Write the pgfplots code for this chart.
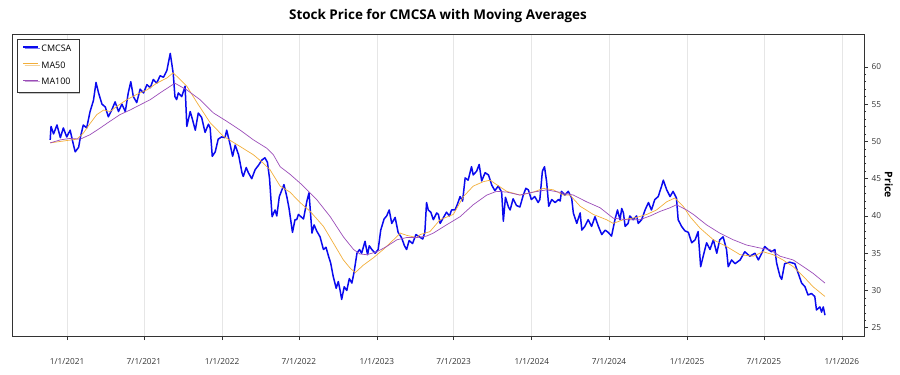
\documentclass[border=0pt]{standalone}
\usepackage{pgfplots}
\pgfplotsset{compat=1.18}
\usepackage{pgfplotstable}
\usepackage{fontspec}
\setmainfont{Open Sans}
\usetikzlibrary{shadows}
\definecolor{cblue}{HTML}{0A0AEE}
\definecolor{corange}{HTML}{F2AE3A}
\definecolor{cpurple}{HTML}{9B4DB8}
\definecolor{cgrid}{HTML}{E6E6E6}
\definecolor{caxis}{HTML}{333333}

\pgfplotstableread{
d p
-40 50.2
-38 52.0
-32 51.0
-24 52.2
-16 50.5
-9 51.8
-1 50.6
7 51.5
15 49.5
19 48.6
27 49.2
31 50.5
38 52.2
46 51.8
54 54.0
62 55.5
68 57.9
74 56.5
82 55.0
90 54.6
97 53.3
105 54.2
113 55.3
121 54.0
129 55.0
137 54.0
144 56.5
150 58.0
156 56.0
164 55.2
172 57.0
180 56.5
188 57.6
196 57.2
203 58.3
211 57.8
219 58.8
227 58.6
235 59.5
243 61.8
250 59.1
254 56.0
258 55.6
262 56.5
270 56.0
278 57.4
282 52.0
290 54.0
295 53.0
302 51.5
309 53.8
317 53.2
325 51.2
333 52.3
337 51.8
342 48.0
349 48.6
356 50.3
364 50.6
372 50.5
376 51.5
384 49.6
390 48.0
396 49.5
404 48.2
412 45.8
415 45.3
422 46.5
427 45.8
435 45.0
443 46.2
451 46.8
459 47.5
466 47.8
472 47.2
477 45.0
483 39.9
490 40.8
494 40.0
500 42.6
511 44.2
518 42.5
523 41.0
531 37.8
537 39.5
541 39.5
545 40.2
549 40.0
557 39.6
565 42.0
570 43.1
577 37.7
582 38.8
588 38.0
596 37.2
604 35.5
610 35.8
616 34.6
621 33.7
627 31.9
634 30.3
639 31.2
643 30.1
647 28.8
653 30.5
659 30.0
665 31.6
671 31.0
676 32.4
683 35.0
689 35.5
694 35.0
702 36.6
708 34.8
712 36.0
718 35.5
726 35.0
733 35.5
739 38.1
747 39.6
753 40.0
759 40.8
765 39.0
773 39.8
780 37.8
788 37.1
795 36.0
800 35.5
806 36.7
814 36.3
822 37.5
830 37.2
838 36.9
843 37.8
847 41.8
851 40.8
857 40.5
863 39.5
871 40.4
875 40.2
879 39.0
887 39.8
894 40.5
901 40.0
906 40.8
914 40.8
920 41.6
926 42.6
932 42.0
938 45.1
945 44.8
953 46.6
957 45.5
965 46.0
971 46.9
977 44.7
985 45.8
993 45.5
1001 44.1
1008 43.4
1016 44.0
1024 43.2
1028 39.3
1033 42.5
1040 41.2
1044 40.8
1051 42.3
1059 41.4
1067 41.2
1075 42.8
1081 43.7
1087 43.5
1094 42.2
1102 42.6
1110 41.8
1114 42.2
1120 46.0
1125 46.6
1130 44.6
1135 41.3
1142 42.2
1150 41.8
1158 42.2
1162 42.0
1165 43.3
1173 42.8
1181 43.3
1189 42.4
1193 40.4
1201 39.0
1209 40.4
1213 38.1
1220 38.6
1228 39.5
1236 38.6
1244 39.9
1252 38.6
1260 37.5
1268 38.1
1275 37.8
1283 37.3
1291 39.5
1297 40.8
1303 39.5
1307 41.0
1311 40.4
1315 38.6
1322 39.0
1326 40.0
1334 39.5
1342 40.0
1346 39.0
1354 39.5
1362 40.8
1370 41.8
1377 40.8
1385 42.2
1393 42.6
1401 44.0
1405 44.8
1413 43.5
1421 42.6
1428 43.3
1436 42.4
1440 39.5
1448 38.6
1456 38.0
1464 37.8
1472 36.4
1480 36.8
1487 37.9
1493 33.2
1499 34.6
1507 36.4
1515 35.5
1523 36.8
1531 35.0
1538 36.8
1546 37.2
1554 35.5
1558 33.2
1566 34.1
1574 33.6
1586 34.1
1597 35.2
1609 34.6
1621 35.0
1629 34.1
1637 35.0
1644 35.9
1652 35.5
1660 35.2
1668 35.5
1672 33.7
1680 31.9
1684 31.5
1691 33.6
1703 33.8
1715 33.6
1723 32.3
1731 31.0
1739 30.5
1746 29.4
1754 29.6
1762 29.2
1766 27.4
1774 27.8
1778 27.1
1782 27.8
1786 26.7
}\price

\pgfplotstableread{
d p
-40 49.8
23 50.3
38 51.1
54 52.4
70 53.6
86 54.2
101 54.0
117 54.7
141 55.6
164 56.3
188 56.9
211 57.8
235 58.5
250 59.2
282 57.4
306 55.2
337 52.5
368 50.7
408 49.3
439 48.2
462 47.1
478 46.2
502 44.0
525 43.2
549 41.8
573 40.6
604 38.6
627 36.4
651 34.1
667 33.0
679 32.4
698 33.4
722 34.4
745 35.5
769 36.8
785 37.7
800 37.4
824 37.1
832 37.5
855 37.9
879 39.5
910 40.2
934 42.6
957 44.0
981 44.6
997 44.8
1012 44.2
1036 43.3
1067 42.8
1099 43.2
1122 43.7
1146 43.5
1169 42.8
1185 42.8
1209 41.3
1240 40.2
1271 39.5
1287 39.0
1311 39.5
1342 39.8
1366 40.2
1389 40.8
1413 41.9
1432 42.4
1452 41.3
1468 39.9
1491 38.4
1523 36.8
1554 35.9
1586 34.8
1617 34.6
1640 35.2
1664 34.8
1687 34.1
1711 33.2
1735 31.9
1758 30.5
1786 29.2
}\maA

\pgfplotstableread{
d p
-40 49.8
-16 50.2
7 50.4
31 50.3
54 50.9
78 51.8
101 52.7
125 53.6
148 54.2
172 54.9
196 55.6
219 56.5
243 57.4
254 57.8
282 56.9
313 55.6
345 53.8
376 52.7
408 51.5
439 50.2
470 49.1
486 48.2
502 46.6
525 45.6
553 44.2
588 42.2
620 39.9
651 37.2
675 35.5
690 34.9
706 34.8
730 35.2
753 35.9
777 36.8
800 37.1
824 37.1
847 37.3
863 37.7
894 38.8
926 39.9
957 41.5
989 42.8
1012 43.3
1036 43.2
1067 42.8
1099 43.2
1130 43.5
1158 43.2
1193 42.8
1224 41.9
1256 41.1
1287 39.7
1319 39.5
1350 39.5
1374 40.0
1397 40.6
1421 41.1
1436 41.5
1460 40.8
1476 40.2
1507 38.8
1538 37.7
1570 36.8
1601 36.1
1633 35.7
1656 35.5
1680 34.6
1711 34.1
1735 33.2
1758 32.3
1786 31.0
}\maB

\begin{document}
\begin{tikzpicture}
\path (0,0) rectangle (900bp,375bp);
\begin{axis}[
  at={(12bp,39bp)}, anchor=south west,
  scale only axis, width=852bp, height=302bp,
  xmin=-130, xmax=1878, ymin=23.9, ymax=64.4,
  axis line style={caxis, line width=0.8bp},
  xtick={0,181,365,546,730,911,1095,1277,1461,1642,1826},
  xticklabels={1/1/2021,7/1/2021,1/1/2022,7/1/2022,1/1/2023,7/1/2023,1/1/2024,7/1/2024,1/1/2025,7/1/2025,1/1/2026},
  ytick={25,30,...,60},
  minor y tick num=4,
  xtick pos=lower, ytick pos=right, yticklabel pos=right,
  tick align=outside,
  major tick length=4bp, minor tick length=2bp,
  tick style={caxis, line width=0.6bp},
  xmajorgrids, major x grid style={cgrid, line width=0.6bp},
  /pgf/number format/assume math mode=true,
  ticklabel style={font=\fontsize{8.3}{10}\selectfont, text=caxis},
  xticklabel style={anchor=center, yshift=-22bp},
  yticklabel style={anchor=west, xshift=0bp},
  ylabel={Price},
  ylabel style={at={(axis description cs:1.029,0.5)}, anchor=center, rotate=180, font=\fontsize{10.5}{12}\selectfont\bfseries},
  legend cell align=left,
  legend style={at={(0.006,0.983)}, anchor=north west, draw=caxis, line width=0.6bp, fill=white,
    font=\fontsize{9}{10}\selectfont, row sep=4.5bp, inner xsep=5bp, inner ysep=4bp,
    nodes={inner xsep=2.5bp},
    drop shadow={shadow xshift=1.5bp, shadow yshift=-1.5bp, fill=black!45}},
  legend image code/.code={\draw[#1, draw=., line cap=butt] (0bp,2.2bp) -- (15bp,2.2bp);},
]
\addplot[cblue, line width=1.5bp, line join=round] table[x=d,y=p] {\price};
\addlegendentry{CMCSA}
\addplot[corange, line width=0.7bp] table[x=d,y=p] {\maA};
\addlegendentry{MA50}
\addplot[cpurple, line width=0.7bp] table[x=d,y=p] {\maB};
\addlegendentry{MA100}
\end{axis}
\node[font=\fontsize{13.5}{15}\selectfont\bfseries] at (438bp,359bp) {Stock Price for CMCSA with Moving Averages};
\end{tikzpicture}
\end{document}
